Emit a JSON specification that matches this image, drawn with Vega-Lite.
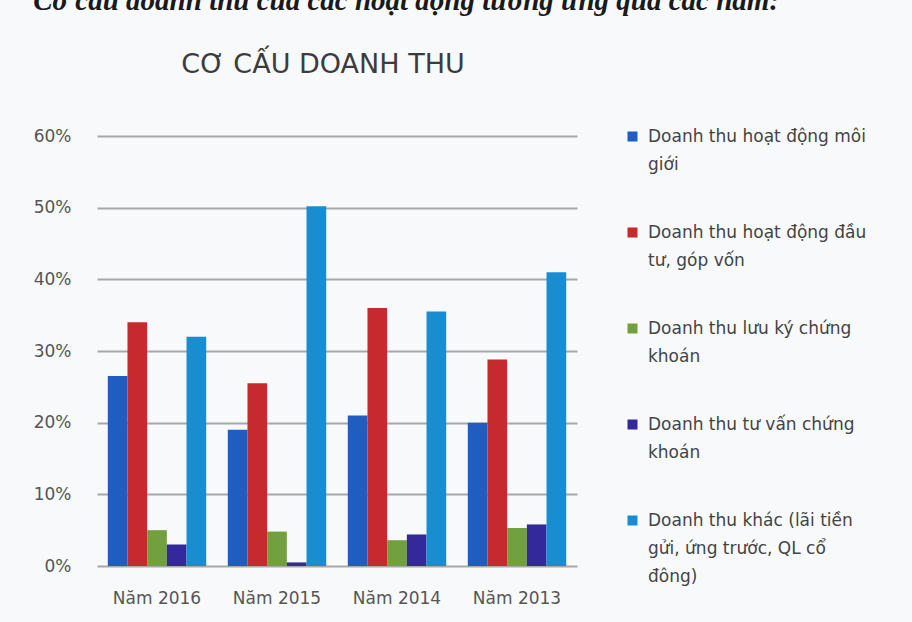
{
  "$schema": "https://vega.github.io/schema/vega-lite/v6.json",
  "background": "#f7f9fb",
  "padding": {"left": 33, "top": -13, "right": 55, "bottom": 25},
  "title": {"text": "Cơ cấu doanh thu của các hoạt động tương ứng qua các năm:", "font": "Liberation Serif", "fontSize": 29, "fontStyle": "italic", "fontWeight": "bold", "color": "#1a1a1a", "anchor": "start", "frame": "bounds", "offset": 35},
  "vconcat": [
    {
      "width": 480,
      "height": 430,
      "title": {"text": "CƠ CẤU DOANH THU", "font": "DejaVu Sans", "fontSize": 27, "fontWeight": "normal", "color": "#3c3c3c", "anchor": "middle", "dx": -14, "offset": 48},
      "data": {"values": [
        {"year": "Năm 2016", "series": "Doanh thu hoạt động môi giới", "value": 0.265},
        {"year": "Năm 2016", "series": "Doanh thu hoạt động đầu tư, góp vốn", "value": 0.34},
        {"year": "Năm 2016", "series": "Doanh thu lưu ký chứng khoán", "value": 0.05},
        {"year": "Năm 2016", "series": "Doanh thu tư vấn chứng khoán", "value": 0.03},
        {"year": "Năm 2016", "series": "Doanh thu khác (lãi tiền gửi, ứng trước, QL cổ đông)", "value": 0.32},
        {"year": "Năm 2015", "series": "Doanh thu hoạt động môi giới", "value": 0.19},
        {"year": "Năm 2015", "series": "Doanh thu hoạt động đầu tư, góp vốn", "value": 0.255},
        {"year": "Năm 2015", "series": "Doanh thu lưu ký chứng khoán", "value": 0.048},
        {"year": "Năm 2015", "series": "Doanh thu tư vấn chứng khoán", "value": 0.005},
        {"year": "Năm 2015", "series": "Doanh thu khác (lãi tiền gửi, ứng trước, QL cổ đông)", "value": 0.502},
        {"year": "Năm 2014", "series": "Doanh thu hoạt động môi giới", "value": 0.21},
        {"year": "Năm 2014", "series": "Doanh thu hoạt động đầu tư, góp vốn", "value": 0.36},
        {"year": "Năm 2014", "series": "Doanh thu lưu ký chứng khoán", "value": 0.036},
        {"year": "Năm 2014", "series": "Doanh thu tư vấn chứng khoán", "value": 0.044},
        {"year": "Năm 2014", "series": "Doanh thu khác (lãi tiền gửi, ứng trước, QL cổ đông)", "value": 0.355},
        {"year": "Năm 2013", "series": "Doanh thu hoạt động môi giới", "value": 0.2},
        {"year": "Năm 2013", "series": "Doanh thu hoạt động đầu tư, góp vốn", "value": 0.288},
        {"year": "Năm 2013", "series": "Doanh thu lưu ký chứng khoán", "value": 0.053},
        {"year": "Năm 2013", "series": "Doanh thu tư vấn chứng khoán", "value": 0.058},
        {"year": "Năm 2013", "series": "Doanh thu khác (lãi tiền gửi, ứng trước, QL cổ đông)", "value": 0.41}
      ]},
      "mark": {"type": "bar"},
      "encoding": {
        "x": {
          "field": "year", "type": "nominal",
          "sort": ["Năm 2016", "Năm 2015", "Năm 2014", "Năm 2013"],
          "scale": {"paddingInner": 0.18, "paddingOuter": 0.09},
          "axis": {"title": null, "labelAngle": 0, "labelFont": "DejaVu Sans", "labelFontSize": 17, "labelColor": "#555555", "labelPadding": 24, "domain": false, "ticks": false}
        },
        "xOffset": {
          "field": "series", "type": "nominal",
          "sort": ["Doanh thu hoạt động môi giới", "Doanh thu hoạt động đầu tư, góp vốn", "Doanh thu lưu ký chứng khoán", "Doanh thu tư vấn chứng khoán", "Doanh thu khác (lãi tiền gửi, ứng trước, QL cổ đông)"]
        },
        "y": {
          "field": "value", "type": "quantitative",
          "scale": {"domain": [0, 0.6]},
          "axis": {"title": null, "format": "%", "values": [0, 0.1, 0.2, 0.3, 0.4, 0.5, 0.6], "labelFont": "DejaVu Sans", "labelFontSize": 17, "labelColor": "#555555", "labelPadding": 26, "domain": false, "ticks": false, "gridColor": "#a8a8a8", "gridWidth": 2}
        },
        "color": {
          "field": "series", "type": "nominal",
          "scale": {
            "domain": ["Doanh thu hoạt động môi giới", "Doanh thu hoạt động đầu tư, góp vốn", "Doanh thu lưu ký chứng khoán", "Doanh thu tư vấn chứng khoán", "Doanh thu khác (lãi tiền gửi, ứng trước, QL cổ đông)"],
            "range": ["#1f5ec0", "#c62a2e", "#73a03f", "#33299a", "#1a8dd0"]
          },
          "legend": {
            "title": null, "orient": "right", "offset": 55, "padding": -8,
            "symbolType": "square", "symbolSize": 100, "symbolStrokeWidth": 0,
            "labelFont": "DejaVu Sans", "labelFontSize": 17, "labelColor": "#444444", "labelLimit": 300, "labelOffset": 7,
            "rowPadding": 50, "labelBaseline": "top",
            "labelExpr": "({'Doanh thu hoạt động môi giới': ['Doanh thu hoạt động môi', 'giới'], 'Doanh thu hoạt động đầu tư, góp vốn': ['Doanh thu hoạt động đầu', 'tư, góp vốn'], 'Doanh thu lưu ký chứng khoán': ['Doanh thu lưu ký chứng', 'khoán'], 'Doanh thu tư vấn chứng khoán': ['Doanh thu tư vấn chứng', 'khoán'], 'Doanh thu khác (lãi tiền gửi, ứng trước, QL cổ đông)': ['Doanh thu khác (lãi tiền', 'gửi, ứng trước, QL cổ', 'đông)']})[datum.value]",
            "encode": {"labels": {"update": {"lineHeight": {"value": 28}, "dy": {"value": -8}}}}
          }
        }
      }
    }
  ],
  "config": {"view": {"stroke": null}}
}
